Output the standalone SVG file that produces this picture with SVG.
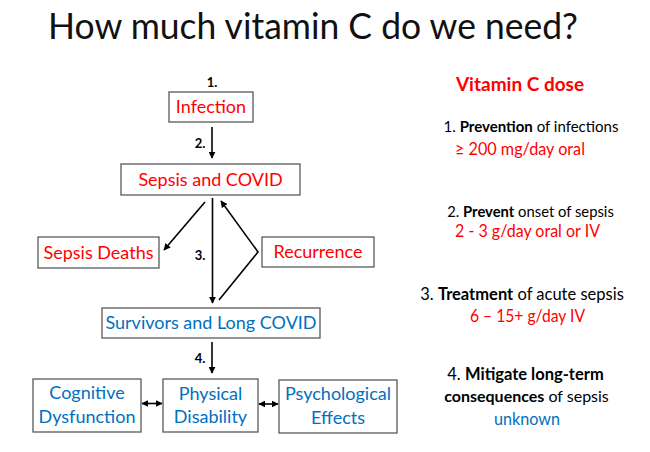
<svg xmlns="http://www.w3.org/2000/svg" width="650" height="452" viewBox="0 0 650 452">
<defs>
<marker id="ah" viewBox="0 0 10 10" refX="9" refY="5" markerWidth="7" markerHeight="7" markerUnits="userSpaceOnUse" orient="auto-start-reverse"><path d="M0,0 L10,5 L0,10 z" fill="#000"/></marker>
<style>
text{font-family:Lato,"Liberation Sans",sans-serif}
.box{fill:#fff;stroke:#595959;stroke-width:1.3}
.red{fill:#FF0000;font-size:18px;text-anchor:middle}
.blue{fill:#0070C0;font-size:18px;text-anchor:middle}
.num{font-size:13px;font-weight:bold;fill:#000;text-anchor:middle}
.r{fill:#000;text-anchor:middle}
.rr{font-size:16.5px;fill:#FF0000}
.rb{font-size:16.5px;fill:#0070C0}
.c{stroke:#000;stroke-width:1.6;fill:none}
</style>
</defs>
<rect width="650" height="452" fill="#fff"/>
<text x="48" y="39" font-family="'Open Sans',sans-serif" font-size="36" textLength="530" lengthAdjust="spacingAndGlyphs" fill="#111">How much vitamin C do we need?</text>

<g id="connectors">
<line class="c" x1="212" y1="127" x2="212" y2="158" marker-end="url(#ah)"/>
<line class="c" x1="205" y1="202" x2="164" y2="250" marker-end="url(#ah)"/>
<line class="c" x1="212.5" y1="198" x2="212.5" y2="303" marker-end="url(#ah)"/>
<polyline class="c" points="219,300 258,252 221,201" marker-end="url(#ah)"/>
<line class="c" x1="212" y1="342" x2="212" y2="373" marker-end="url(#ah)"/>
<line class="c" x1="142" y1="403.5" x2="162" y2="403.5" marker-start="url(#ah)" marker-end="url(#ah)"/>
<line class="c" x1="259" y1="404" x2="278" y2="404" marker-start="url(#ah)" marker-end="url(#ah)"/>
</g>

<g id="labels">
<text class="num" x="212" y="87">1.</text>
<text class="num" x="200" y="148">2.</text>
<text class="num" x="200" y="260">3.</text>
<text class="num" x="200" y="363">4.</text>
</g>

<g id="infection"><rect class="box" x="169" y="92" width="84" height="30"/><text class="red" x="211" y="113">Infection</text></g>
<g id="sepsis"><rect class="box" x="121" y="164" width="179" height="31"/><text class="red" x="210.5" y="186">Sepsis and COVID</text></g>
<g id="deaths"><rect class="box" x="38" y="237" width="121" height="31"/><text class="red" x="98.5" y="259">Sepsis Deaths</text></g>
<g id="recurrence"><rect class="box" x="262" y="237" width="112" height="30"/><text class="red" x="318" y="258">Recurrence</text></g>
<g id="survivors"><rect class="box" x="102" y="308" width="218" height="30"/><text class="blue" x="211" y="329">Survivors and Long COVID</text></g>
<g id="cognitive"><rect class="box" x="33" y="379" width="108" height="53"/><text class="blue" x="87" y="399">Cognitive</text><text class="blue" x="87" y="422.5">Dysfunction</text></g>
<g id="physical"><rect class="box" x="163" y="379" width="95" height="53"/><text class="blue" x="210.5" y="400">Physical</text><text class="blue" x="210.5" y="423">Disability</text></g>
<g id="psych"><rect class="box" x="279" y="380" width="118" height="53"/><text class="blue" x="338" y="400">Psychological</text><text class="blue" x="338" y="423.5">Effects</text></g>

<g id="dose">
<text x="520" y="91" font-size="19" font-weight="bold" fill="#FF0000" text-anchor="middle">Vitamin C dose</text>
<text class="r" x="531" y="132" font-size="15">1. <tspan font-weight="bold">Prevention</tspan> of infections</text>
<text class="rr" x="455" y="155" textLength="130" lengthAdjust="spacingAndGlyphs">≥ 200 mg/day oral</text>
<text class="r" x="530.5" y="217" font-size="14.8">2. <tspan font-weight="bold">Prevent</tspan> onset of sepsis</text>
<text class="rr" x="455" y="237" textLength="145" lengthAdjust="spacingAndGlyphs">2 - 3 g/day oral or IV</text>
<text class="r" x="522" y="300" font-size="16.5">3. <tspan font-weight="bold">Treatment</tspan> of acute sepsis</text>
<text class="rr" x="470" y="322" textLength="115" lengthAdjust="spacingAndGlyphs">6 – 15+ g/day IV</text>
<text class="r" x="525.5" y="380" font-size="16.5">4. <tspan font-weight="bold">Mitigate long-term</tspan></text>
<text class="r" x="526.5" y="402" font-size="16"><tspan font-weight="bold">consequences</tspan> of sepsis</text>
<text class="rb" x="494" y="425" textLength="66" lengthAdjust="spacingAndGlyphs">unknown</text>
</g>
</svg>
